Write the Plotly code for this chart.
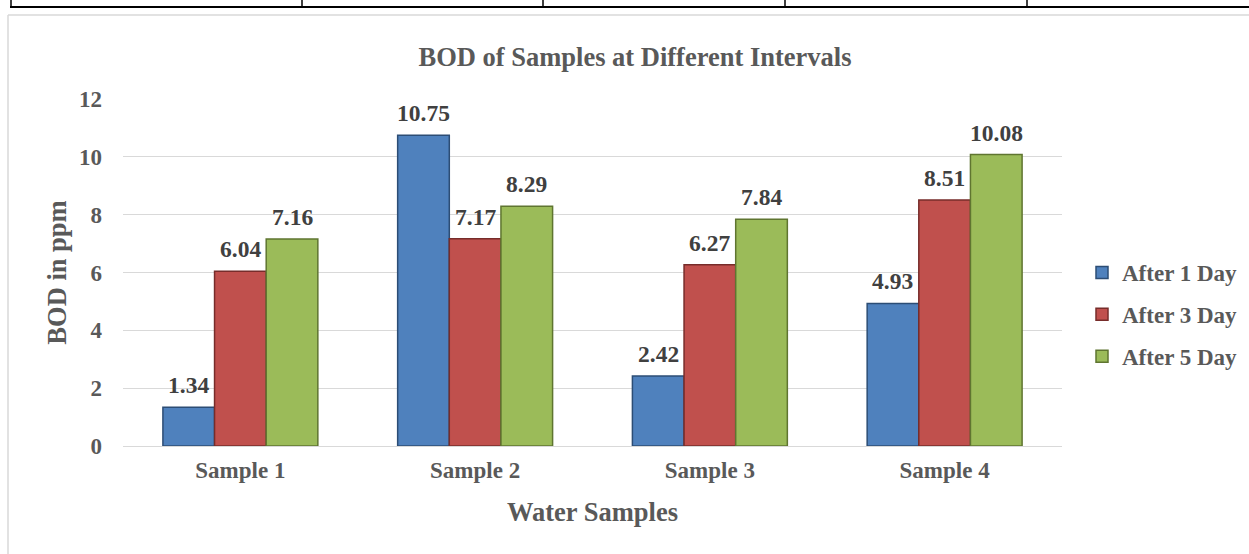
import plotly.graph_objects as go

categories = ["Sample 1", "Sample 2", "Sample 3", "Sample 4"]
series_names = ["After 1 Day", "After 3 Day", "After 5 Day"]
after_1_day = [1.34, 10.75, 2.42, 4.93]
after_3_day = [6.04, 7.17, 6.27, 8.51]
after_5_day = [7.16, 8.29, 7.84, 10.08]
y_ticks = [0, 2, 4, 6, 8, 10, 12]

fills = ["#4f81bd", "#c0504d", "#9bbb59"]
edges = ["#2c4d75", "#772c2a", "#5f7530"]

W, H = 1249, 554
L, R, T, B = 123, 1062, 99, 446
BARGAP = 0.34

def px(x):
    return (x - L) / (R - L)

def py(y):
    return (B - y) / (B - T)

FONT = "Liberation Serif"
GREY = "#595959"
fig = go.Figure()
all_series = [after_1_day, after_3_day, after_5_day]
for name, vals, fc, ec in zip(series_names, all_series, fills, edges):
    fig.add_trace(go.Bar(
        x=categories, y=vals, name=name, legendgroup=name,
        marker=dict(color=fc, line=dict(color=ec, width=1.5)),
    ))

# value labels placed above each bar (pixel offset of each bar within its group)
cat_px = (R - L) / len(categories)
bar_px = cat_px * (1 - BARGAP) / len(all_series)
annotations = []
for si, vals in enumerate(all_series):
    for cat, v in zip(categories, vals):
        annotations.append(dict(
            x=cat, y=v, xref="x", yref="y", text=f"<b>{v:.2f}</b>", showarrow=False,
            xanchor="center", yanchor="bottom", xshift=(si - 1) * bar_px, yshift=7,
            font=dict(family=FONT, size=23.5, color="#404040"),
        ))

shapes = []
# table remnant at top
shapes.append(dict(type="line", xref="paper", yref="paper", x0=px(10), x1=px(1260), y0=py(7), y1=py(7),
                   line=dict(color="black", width=2)))
for vx in [11, 302, 543, 785, 1027]:
    shapes.append(dict(type="line", xref="paper", yref="paper", x0=px(vx), x1=px(vx), y0=py(-2), y1=py(7),
                       line=dict(color="black", width=1.5)))
# chart border
shapes.append(dict(type="line", xref="paper", yref="paper", x0=px(8), x1=px(1260), y0=py(15), y1=py(15),
                   line=dict(color="#d9d9d9", width=1.5)))
shapes.append(dict(type="line", xref="paper", yref="paper", x0=px(8), x1=px(8), y0=py(15), y1=py(560),
                   line=dict(color="#d9d9d9", width=1.5)))

fig.update_layout(
    width=W, height=H,
    margin=dict(l=L, r=W - R, t=T, b=H - B, pad=0, autoexpand=False),
    paper_bgcolor="white", plot_bgcolor="white",
    barmode="group", bargap=BARGAP, bargroupgap=0,
    font=dict(family=FONT, color=GREY),
    title=dict(text="<b>BOD of Samples at Different Intervals</b>", x=px(635), xref="paper",
               xanchor="center", y=1 - 57 / H, yanchor="middle",
               font=dict(family=FONT, size=26.5, color=GREY)),
    xaxis=dict(showgrid=False, showline=True, linecolor="#d9d9d9", linewidth=1, ticks="",
               tickfont=dict(family=FONT, size=23, color=GREY, weight="bold"),
               ticklabelstandoff=3,
               title=dict(text="<b>Water Samples</b>", font=dict(family=FONT, size=26.5, color=GREY),
                          standoff=20)),
    yaxis=dict(range=[0, 12], tickvals=y_ticks, showgrid=True, gridcolor="#d9d9d9", gridwidth=1,
               zeroline=False, showline=False, ticks="", ticklabelstandoff=20,
               tickfont=dict(family=FONT, size=23, color=GREY, weight="bold"),
               title=dict(text="<b>BOD in ppm</b>", font=dict(family=FONT, size=26.5, color=GREY),
                          standoff=4)),
    legend=dict(xref="container", yref="container", x=1082 / W, xanchor="left", y=1 - 251 / H, yanchor="top",
                font=dict(family=FONT, size=23, color=GREY, weight="bold"),
                itemwidth=30, tracegroupgap=9, bgcolor="rgba(0,0,0,0)"),
    shapes=shapes,
    annotations=annotations,
)
fig.write_html("out.html")
